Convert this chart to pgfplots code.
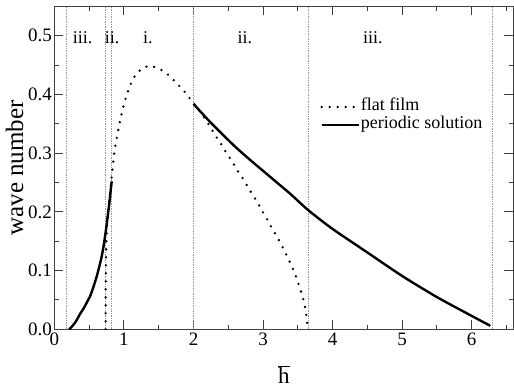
\documentclass[border=0pt]{standalone}
\usepackage{fontspec}
\setmainfont{Liberation Serif}
\usepackage{pgfplots}
\pgfplotsset{compat=1.18}

% Flat-film marginal curve (dotted)
\pgfplotstableread{
x y
0.735 0.000
0.736 0.040
0.738 0.080
0.741 0.120
0.746 0.150
0.755 0.175
0.768 0.195
0.788 0.215
0.815 0.250
0.840 0.280
0.860 0.300
0.885 0.320
0.918 0.340
0.952 0.360
0.993 0.380
1.040 0.400
1.105 0.420
1.163 0.433
1.245 0.443
1.355 0.449
1.470 0.446
1.580 0.439
1.670 0.430
1.750 0.420
1.835 0.410
1.910 0.399
1.980 0.388
2.100 0.370
2.190 0.354
2.260 0.341
2.320 0.329
2.390 0.317
2.450 0.305
2.515 0.293
2.580 0.281
2.645 0.268
2.710 0.257
2.770 0.245
2.830 0.233
2.895 0.221
2.960 0.208
3.014 0.196
3.077 0.184
3.134 0.171
3.197 0.159
3.254 0.146
3.307 0.134
3.360 0.121
3.412 0.108
3.460 0.095
3.500 0.081
3.537 0.068
3.570 0.056
3.600 0.041
3.620 0.027
3.633 0.012
3.640 0.000
}\flatfilm

% Periodic solution, lower branch
\pgfplotstableread{
x y
0.213 0.000
0.260 0.006
0.300 0.012
0.335 0.019
0.367 0.026
0.405 0.033
0.440 0.040
0.475 0.048
0.511 0.056
0.560 0.072
0.607 0.090
0.645 0.107
0.679 0.124
0.705 0.141
0.727 0.158
0.747 0.175
0.765 0.192
0.783 0.209
0.799 0.226
0.812 0.240
0.823 0.252
}\periodicA

% Periodic solution, upper branch
\pgfplotstableread{
x y
2.00 0.384
2.20 0.358
2.40 0.334
2.60 0.311
2.80 0.290
3.00 0.270
3.20 0.250
3.40 0.230
3.65 0.203
4.00 0.171
4.50 0.131
5.00 0.091
5.50 0.055
6.00 0.023
6.27 0.006
}\periodicB

\begin{document}
\begin{tikzpicture}
\begin{axis}[
  at={(0,0)}, anchor=south west,
  width=458.7bp, height=322.9bp, scale only axis,
  xmin=0, xmax=6.6, ymin=0, ymax=0.55,
  xtick={0,1,2,3,4,5,6},
  minor xtick={0.5,1.5,2.5,3.5,4.5,5.5,6.5},
  ytick={0,0.1,0.2,0.3,0.4,0.5},
  minor ytick={0.05,0.15,0.25,0.35,0.45},
  yticklabel style={/pgf/number format/fixed, /pgf/number format/fixed zerofill,
    /pgf/number format/precision=1, xshift=1bp},
  /pgf/number format/assume math mode=true,
  tick align=inside,
  tick pos=both,
  major tick length=9bp,
  minor tick length=4.7bp,
  every tick/.style={black!75, line width=1bp},
  axis line style={black!75, line width=1.3bp},
  tick label style={font=\fontsize{19bp}{21bp}\selectfont},
  xlabel={$\overline{\mbox{h}}$},
  ylabel={wave number},
  xlabel style={font=\fontsize{23bp}{25bp}\selectfont, at={(axis description cs:0.5,0)},
    anchor=base, yshift=-54.5bp, inner sep=0pt},
  ylabel style={font=\fontsize{25bp}{27bp}\selectfont, at={(axis description cs:0,0.5)},
    anchor=center, yshift=40bp, inner sep=0pt},
  legend cell align=left,
  legend image code/.code={\draw[#1] (0bp,0bp) -- (37bp,0bp);},
  legend style={at={(axis cs:3.78,0.395)}, anchor=north west, draw=none, fill=none,
    font=\fontsize{18bp}{18bp}\selectfont, row sep=3bp,
    nodes={inner sep=1bp, text height=10bp, text depth=3bp}},
  clip=true,
]
% region boundaries
\pgfplotsset{vline/.style={forget plot, gray!80, line width=0.7bp, dash pattern=on 1bp off 0.7bp}}
\addplot[vline] coordinates {(0.175,0) (0.175,0.55)};
\addplot[vline] coordinates {(0.737,0) (0.737,0.55)};
\addplot[vline] coordinates {(0.817,0) (0.817,0.55)};
\addplot[vline] coordinates {(2.0,0) (2.0,0.55)};
\addplot[vline] coordinates {(3.655,0) (3.655,0.55)};
\addplot[vline] coordinates {(6.3,0) (6.3,0.55)};

\addplot[black, line width=2.6bp, line cap=round, dash pattern=on 0pt off 8bp] table {\flatfilm};
\addlegendentry{flat film}
\addplot[black, line width=2.4bp, smooth, tension=0.4] table {\periodicA};
\addlegendentry{periodic solution}
\addplot[black, line width=2.4bp, smooth, tension=0.4, forget plot] table {\periodicB};

\begin{scope}[every node/.style={font=\fontsize{18bp}{20bp}\selectfont, inner sep=0pt}]
\node at (axis cs:0.405,0.496) {iii.};
\node at (axis cs:0.83,0.496) {ii.};
\node at (axis cs:1.345,0.496) {i.};
\node at (axis cs:2.74,0.496) {ii.};
\node at (axis cs:4.58,0.496) {iii.};
\end{scope}
\end{axis}
\pgfresetboundingbox
\path[use as bounding box] (-54.5bp,-56.7bp) rectangle (459.5bp,329.3bp);
\end{tikzpicture}
\end{document}
